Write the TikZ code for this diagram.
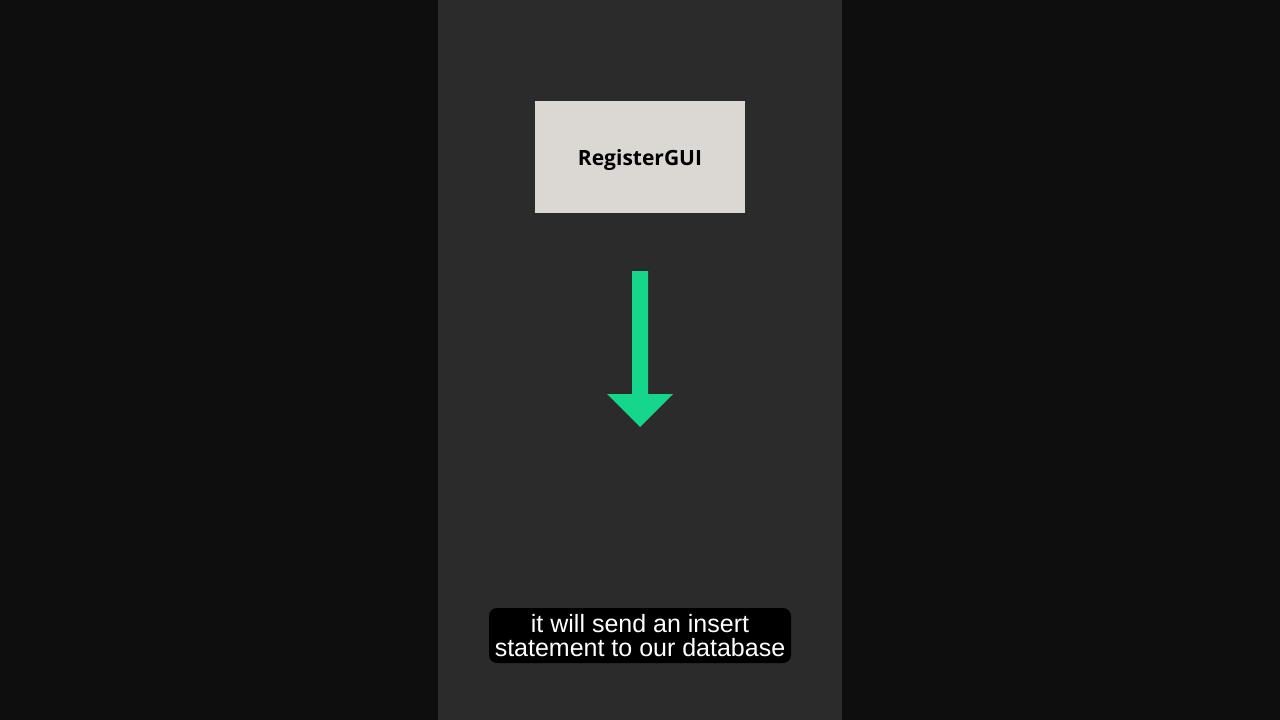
\documentclass[tikz,border=0pt]{standalone}
\usepackage{fontspec}
\setmainfont{Liberation Sans}
\newfontfamily\boxfont{Open Sans}
\definecolor{outerbg}{HTML}{0E0E0E}
\definecolor{panelbg}{HTML}{2B2B2B}
\definecolor{boxfill}{HTML}{DBD8D4}
\definecolor{arrowgreen}{HTML}{16D68C}
\tikzset{
  classbox/.style={fill=boxfill, draw=none, minimum width=210pt, minimum height=112pt, inner sep=0pt,
    text height=16pt, text depth=0pt,
    font=\boxfont\bfseries\fontsize{21}{25}\selectfont, text=black},
  captionbox/.style={fill=black, rounded corners=8pt, minimum width=302pt, minimum height=55pt, inner sep=0pt,
    text=white, align=center, font=\fontsize{25}{24}\selectfont},
  bigarrow/.style={fill=arrowgreen, draw=none}
}
\begin{document}
\begin{tikzpicture}[x=1pt,y=-1pt]
  \fill[outerbg] (0,0) rectangle (1280,720);
  \useasboundingbox (0,0) rectangle (1280,720);
  \fill[panelbg] (438,0) rectangle (842,720);
  \node[classbox] (gui) at (640,157) {RegisterGUI};
  \coordinate (shafttop) at (640,271);
  \coordinate (tip) at (640,427);
  \fill[bigarrow] (632,271) -- (648,271) -- (648,394) -- (673,394) -- (tip) -- (607,394) -- (632,394) -- cycle;
  \node[captionbox] (cap) at (640,635.5) {it will send an insert\\statement to our database};
\end{tikzpicture}
\end{document}
